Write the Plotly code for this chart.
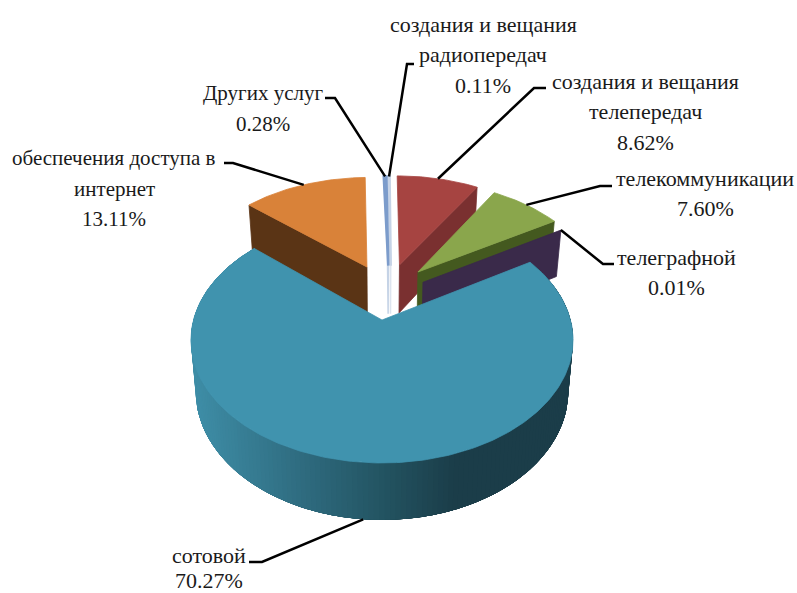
import math
import plotly.graph_objects as go

# ---- data -------------------------------------------------------------
label_lines = [
    ["создания и вещания", "телепередач"],
    ["телекоммуникации"],
    ["телеграфной"],
    ["сотовой"],
    ["обеспечения доступа в", "интернет"],
    ["Других услуг"],
    ["создания и вещания", "радиопередач"],
]
values = [8.62, 7.60, 0.01, 70.27, 13.11, 0.28, 0.11]

# ---- style / layout ---------------------------------------------------
top_colors = ["#A64441", "#8AA64C", "#8064A2", "#4093AE", "#D98239", "#7C9CCB", "#C6D3E6"]
wall_colors = ["#7A3030", "#44591F", "#3A2A4A", "#1B3D49", "#5A3415", "#C5D3E6", "#DDE4EE"]
# slice displacement in the pie's plane (explosion)
explode = [(0.1, -0.497), (0.204, -0.429), (0.229, -0.332), (0.0, 0.0),
           (-0.086, -0.477), (0.036, -0.49), (0.05, -0.49)]
# label anchor (centre x, first-line y), line gap, font size; leader elbows in pixels
label_pos = [(645, 81), (705, 178), (676, 257), (209, 555), (114, 158), (263, 93), (483, 24)]
line_gaps = [30.5, 30.5, 30.5, 25, 30.5, 30.5, 30.5]
font_sizes = [22, 22, 22, 22, 21, 21, 22]
elbows = [[(534, 88), (546, 88)], [(600, 186), (612, 186)], [(603, 264), (614, 264)],
          [(262, 562), (249, 562)], [(233, 163), (224, 163)], [(335, 98), (325, 98)],
          [(407, 64), (414, 64)]]

# perspective projection of the unit disc
CX, CY, A, B, K = 382.0, 320.0, 188.5, 119.7, 0.1626
D0, D1, XS = 50.5, 5.44, 0.975


def top(u, v):
    d = 1 - K * v
    return CX + A * u / d, CY + B * v / d


def bottom(u, v):
    d = 1 - K * v
    w = v / d
    return CX + XS * A * u / d, CY + B * w + D0 + D1 * w


def outer(ex, a):
    return ex[0] + math.sin(a), ex[1] - math.cos(a)


def poly(fig, pts, color, lw=0.8):
    fig.add_trace(go.Scatter(
        x=[p[0] for p in pts] + [pts[0][0]], y=[p[1] for p in pts] + [pts[0][1]],
        mode="lines", fill="toself", fillcolor=color,
        line=dict(color=color, width=lw), hoverinfo="skip", showlegend=False))


def mix(c1, c2, t):
    a = [int(c1[i:i + 2], 16) for i in (1, 3, 5)]
    b = [int(c2[i:i + 2], 16) for i in (1, 3, 5)]
    return "#%02X%02X%02X" % tuple(round(x + (y - x) * t) for x, y in zip(a, b))


def wall_color(x):
    stops = [(195, "#3E8DA6"), (300, "#2F6C80"), (382, "#235462"), (455, "#1B3D49"), (600, "#1B3D49")]
    for (x0, c0), (x1, c1) in zip(stops, stops[1:]):
        if x <= x1:
            return mix(c0, c1, max(0, (x - x0) / (x1 - x0)))
    return stops[-1][1]


total = sum(values)
angles = []
c = 0.0
for val in values:
    angles.append((c / total * 2 * math.pi, (c + val) / total * 2 * math.pi))
    c += val

fig = go.Figure()


def radial_wall(i, a):
    ex = explode[i]
    o = outer(ex, a)
    poly(fig, [top(*ex), top(*o), bottom(*o), bottom(*ex)], wall_colors[i])


def top_face(i, lw=0.8):
    ex = explode[i]
    a0, a1 = angles[i]
    n = max(2, int((a1 - a0) * 60))
    arc = [top(*outer(ex, a0 + (a1 - a0) * k / n)) for k in range(n + 1)]
    poly(fig, [top(*ex)] + arc, top_colors[i], lw)


# red
radial_wall(0, angles[0][1])
top_face(0)
# orange
radial_wall(4, angles[4][0])
top_face(4)
# slivers
for i in (6, 5):
    ex = explode[i]
    a0, a1 = angles[i]
    o0, o1 = outer(ex, a0), outer(ex, a1)
    poly(fig, [top(*ex), bottom(*ex), top(*o1), top(*o0)], wall_colors[i], 1.5)
    top_face(i, 2.5)
# green
radial_wall(1, angles[1][1])
top_face(1)
# purple
radial_wall(2, angles[2][1])
# main slice: outer wall with a gradient, then the face
a0, a1 = angles[3]
N = 180
OVER = 10  # each band runs on under the next ones so that no seam shows
for k in range(N):
    last = min(N, k + OVER)
    rim = [outer(explode[3], a0 + (a1 - a0) * j / N) for j in range(k, last + 1)]
    pts = [top(*p) for p in rim] + [bottom(*p) for p in reversed(rim)]
    m = outer(explode[3], a0 + (a1 - a0) * (k + 0.5) / N)
    poly(fig, pts, wall_color(top(*m)[0]), 0)
top_face(3)

# leaders and labels
annotations = []
for i, (lines, val) in enumerate(zip(label_lines, values)):
    a0, a1 = angles[i]
    mid = (a0 + a1) / 2
    o = outer(explode[i], mid)
    start = bottom(*o) if i == 3 else top(*o)
    path = [start] + elbows[i]
    fig.add_trace(go.Scatter(x=[p[0] for p in path], y=[p[1] for p in path], mode="lines",
                             line=dict(color="#000000", width=2.5), hoverinfo="skip", showlegend=False))
    lx, ly = label_pos[i]
    for j, text in enumerate(lines + [f"{val:.2f}%"]):
        annotations.append(dict(x=lx, y=ly + j * line_gaps[i], text=text, showarrow=False,
                                xref="x", yref="y", xanchor="center", yanchor="middle",
                                font=dict(family="Liberation Serif", size=font_sizes[i], color="#1a1a1a")))

fig.update_layout(
    width=797, height=593, margin=dict(l=0, r=0, t=0, b=0),
    paper_bgcolor="white", plot_bgcolor="white", annotations=annotations,
    xaxis=dict(range=[0, 797], visible=False, fixedrange=True),
    yaxis=dict(range=[593, 0], visible=False, fixedrange=True),
)
fig.write_html("out.html", config=dict(displayModeBar=False),
               post_script="document.body.style.margin='0';document.documentElement.style.overflow='hidden';")
